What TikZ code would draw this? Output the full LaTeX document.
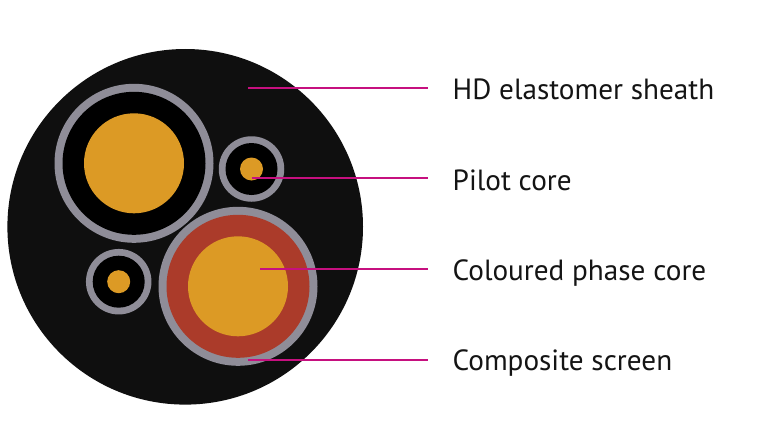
\documentclass[tikz,border=0pt]{standalone}
\usepackage{fontspec}
\setmainfont{PT Sans}
\definecolor{sheath}{HTML}{0F0F0F}
\definecolor{screen}{HTML}{8F8D98}
\definecolor{copper}{HTML}{DC9A25}
\definecolor{phase}{HTML}{AB3B2A}
\definecolor{leader}{HTML}{C6107F}
\tikzset{
 px/.style={x=1pt,y=-1pt},
 disc/.style={circle,inner sep=0pt,outer sep=0pt},
 lead/.style={draw=leader,line width=1.9pt},
 lab/.style={anchor=base west,inner sep=0pt,font=\fontsize{29.2}{32}\selectfont,text=black!92}
}
\begin{document}
\begin{tikzpicture}[px]
\useasboundingbox (0,0) rectangle (768,436);
\fill[white] (0,0) rectangle (768,436);
\node[disc,fill=sheath,minimum size=355.6pt] (cable) at (185.2,226.8) {};
\node[disc,fill=screen,minimum size=159pt] (s1) at (134,163.3) {};
\node[disc,fill=black,minimum size=143pt] (i1) at (134,163.3) {};
\node[disc,fill=copper,minimum size=100pt] (c1) at (134,163.3) {};
\node[disc,fill=screen,minimum size=65.5pt] (s2) at (251.5,169) {};
\node[disc,fill=black,minimum size=52pt] (i2) at (251.5,169) {};
\node[disc,fill=copper,minimum size=23pt] (c2) at (251.5,169) {};
\node[disc,fill=screen,minimum size=65.5pt] (s3) at (118.7,281.7) {};
\node[disc,fill=black,minimum size=52pt] (i3) at (118.7,281.7) {};
\node[disc,fill=copper,minimum size=23pt] (c3) at (118.7,281.7) {};
\node[disc,fill=screen,minimum size=159pt] (s4) at (238,286.3) {};
\node[disc,fill=phase,minimum size=143pt] (i4) at (238,286.3) {};
\node[disc,fill=copper,minimum size=100pt] (c4) at (238,286.3) {};
\coordinate (a1) at (248,88);
\coordinate (a2) at (251.7,178);
\coordinate (a3) at (260,269);
\coordinate (a4) at (248,360);
\coordinate (b1) at (428,88);
\coordinate (b2) at (428,178);
\coordinate (b3) at (428,269);
\coordinate (b4) at (428,360);
\node[lab] (t1) at (452.5,99.3) {HD elastomer sheath};
\node[lab] (t2) at (452.5,190) {Pilot core};
\node[lab] (t3) at (452.5,280) {Coloured phase core};
\node[lab] (t4) at (452.5,370.7) {Composite screen};
\draw[lead] (a1) -- (b1);
\draw[lead] (a2) -- (b2);
\draw[lead] (a3) -- (b3);
\draw[lead] (a4) -- (b4);
\end{tikzpicture}
\end{document}
